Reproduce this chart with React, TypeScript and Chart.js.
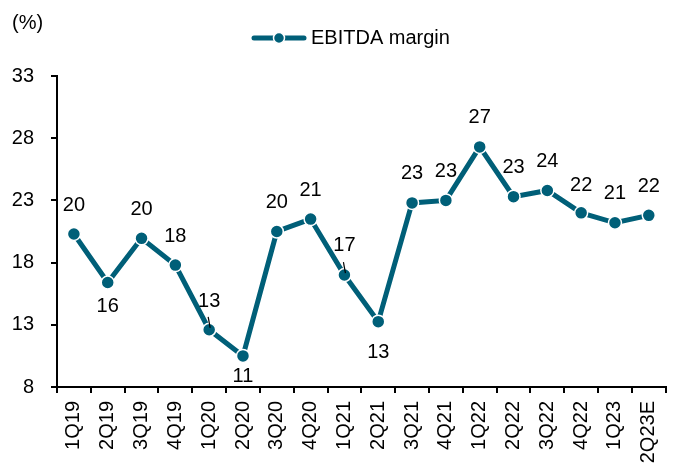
import React, { useEffect, useRef } from "react";
import { Chart, registerables } from "chart.js";

Chart.register(...registerables);

const categories = [
  "1Q19", "2Q19", "3Q19", "4Q19", "1Q20", "2Q20", "3Q20", "4Q20", "1Q21",
  "2Q21", "3Q21", "4Q21", "1Q22", "2Q22", "3Q22", "4Q22", "1Q23", "2Q23E",
];
const ebitdaMargin = [
  20.3, 16.4, 19.95, 17.8, 12.6, 10.5, 20.5, 21.5, 17.0,
  13.25, 22.8, 23.0, 27.3, 23.3, 23.8, 22.0, 21.2, 21.8,
];
const dataLabels = [
  "20", "16", "20", "18", "13", "11", "20", "21", "17",
  "13", "23", "23", "27", "23", "24", "22", "21", "22",
];
const yTicks = { min: 8, max: 33, step: 5 };
const seriesName = "EBITDA margin";
const unitLabel = "(%)";

// label placement (style): pixel offset from point centre, negative = above
const labelOffsetPx = [
  -29, 24, -29, -29, -28, 21, -29, -29, -30,
  31, -29, -29, -29, -29, -29, -27, -29, -29,
];
const leaderLineIdx = [4, 8];

const COLOR = "#005F78";
const FONT = "'Liberation Sans', Arial, sans-serif";

const overlayPlugin = {
  id: "overlay",
  afterDatasetsDraw(chart: any) {
    const ctx = chart.ctx;
    const meta = chart.getDatasetMeta(0);
    ctx.save();
    ctx.fillStyle = "#000";
    ctx.font = `20px ${FONT}`;
    ctx.textAlign = "center";
    ctx.textBaseline = "middle";
    meta.data.forEach((el: any, i: number) => {
      ctx.fillText(dataLabels[i], el.x, el.y + labelOffsetPx[i]);
    });
    ctx.strokeStyle = "#000";
    ctx.lineWidth = 1.2;
    leaderLineIdx.forEach((i) => {
      const el = meta.data[i];
      ctx.beginPath();
      ctx.moveTo(el.x - 1, el.y - 13);
      ctx.lineTo(el.x + 1, el.y - 2);
      ctx.stroke();
    });
    ctx.restore();
  },
  afterDraw(chart: any) {
    const ctx = chart.ctx;
    ctx.save();
    ctx.fillStyle = "#000";
    ctx.font = `20px ${FONT}`;
    ctx.textBaseline = "middle";
    ctx.textAlign = "left";
    ctx.fillText(unitLabel, 12, 23);
    // legend
    ctx.strokeStyle = COLOR;
    ctx.lineWidth = 5;
    ctx.lineCap = "round";
    ctx.beginPath();
    ctx.moveTo(254, 38);
    ctx.lineTo(304, 38);
    ctx.stroke();
    ctx.fillStyle = COLOR;
    ctx.strokeStyle = "#fff";
    ctx.lineWidth = 1.5;
    ctx.beginPath();
    ctx.arc(279, 38, 5.5, 0, Math.PI * 2);
    ctx.fill();
    ctx.stroke();
    ctx.fillStyle = "#000";
    ctx.fillText(seriesName, 311, 38);
    ctx.restore();
  },
};

export default function App() {
  const ref = useRef<HTMLCanvasElement>(null);
  useEffect(() => {
    if (!ref.current) return;
    const chart = new Chart(ref.current, {
      type: "line",
      data: {
        labels: categories,
        datasets: [
          {
            label: seriesName,
            data: ebitdaMargin,
            borderColor: COLOR,
            backgroundColor: COLOR,
            borderWidth: 5,
            pointRadius: 6.5,
            pointBorderColor: "#fff",
            pointBorderWidth: 1.5,
            pointBackgroundColor: COLOR,
            tension: 0,
          },
        ],
      },
      options: {
        responsive: false,
        animation: false,
        layout: { padding: { top: 76, right: 1, left: 0, bottom: 0 } },
        plugins: { legend: { display: false }, tooltip: { enabled: false } },
        scales: {
          x: {
            type: "category",
            offset: true,
            grid: {
              offset: true,
              drawOnChartArea: false,
              tickLength: 6,
              color: "#000",
              lineWidth: 2,
            },
            border: { color: "#000", width: 2 },
            ticks: {
              minRotation: 90,
              maxRotation: 90,
              padding: 8,
              color: "#000",
              font: { size: 20, family: FONT },
            },
            afterFit: (s: any) => {
              s.height = 77;
            },
          },
          y: {
            min: yTicks.min,
            max: yTicks.max,
            grid: {
              drawOnChartArea: false,
              tickLength: 6,
              color: "#000",
              lineWidth: 2,
            },
            border: { color: "#000", width: 2 },
            ticks: {
              stepSize: yTicks.step,
              padding: 17,
              color: "#000",
              font: { size: 20, family: FONT },
            },
            afterFit: (s: any) => {
              s.width = 57;
            },
          },
        },
      },
      plugins: [overlayPlugin],
    });
    return () => chart.destroy();
  }, []);
  return (
    <div style={{ position: "fixed", left: 0, top: 0, width: 681, height: 464, background: "#fff" }}>
      <canvas ref={ref} width={681} height={464} />
    </div>
  );
}
